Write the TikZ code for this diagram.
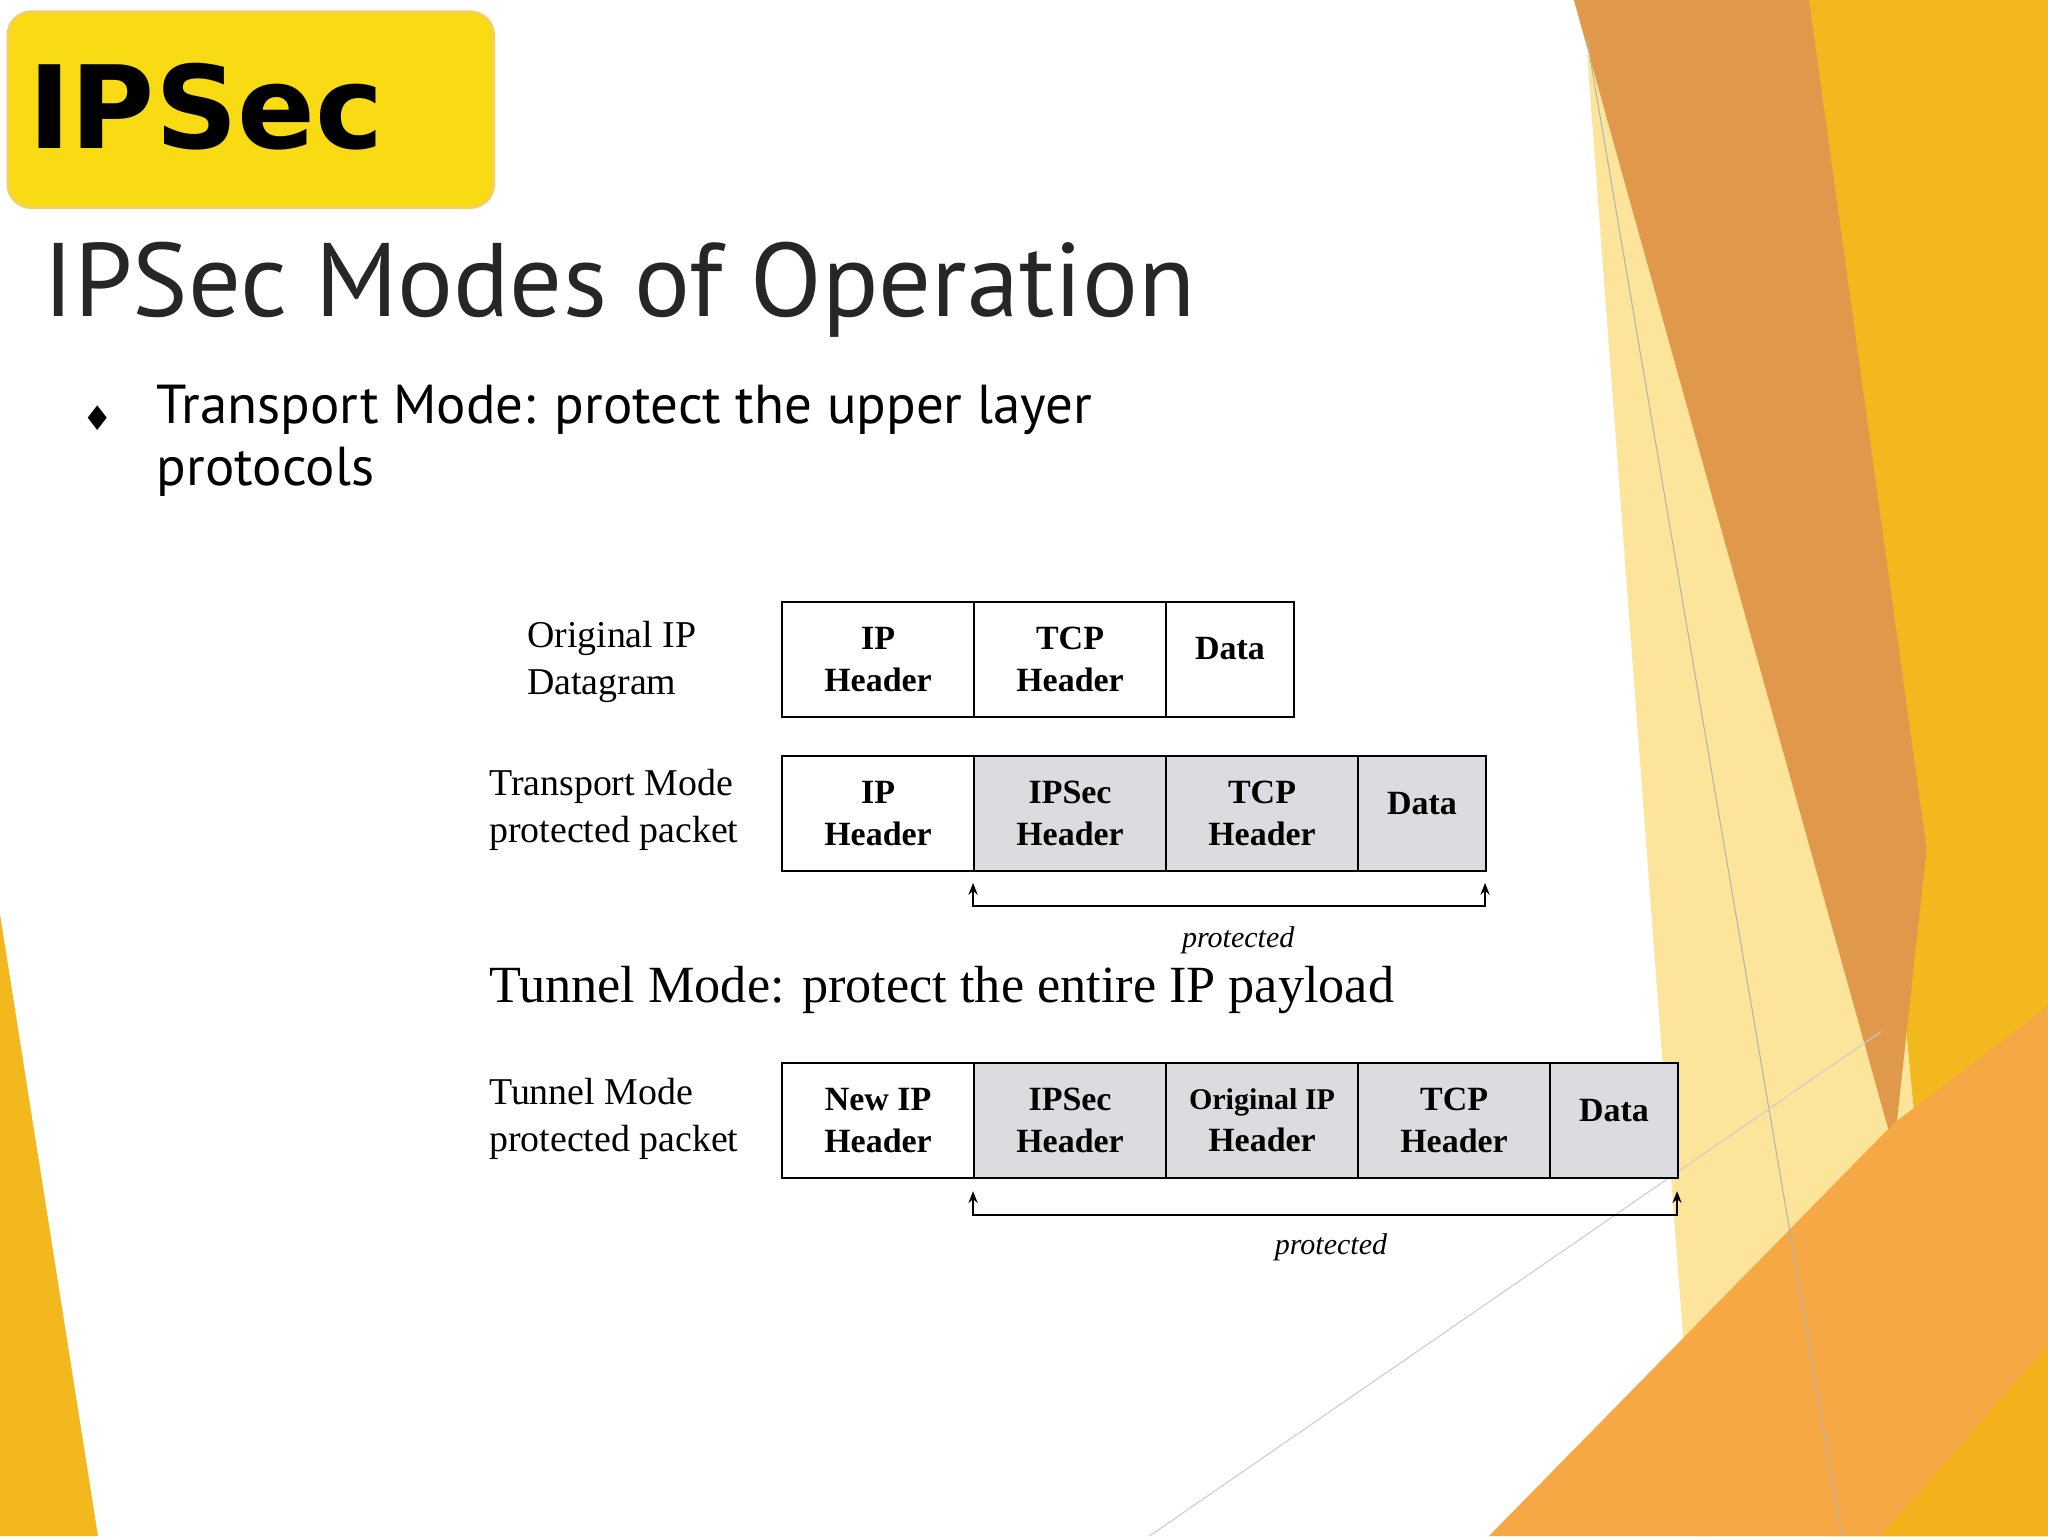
\documentclass[tikz,border=0pt]{standalone}
\usepackage{fontspec}
\setmainfont{Liberation Serif}
\newfontfamily\ptsans{PT Sans}
\newfontfamily\djb{DejaVu Sans}
\usetikzlibrary{arrows.meta}
\definecolor{gold}{HTML}{F2B81E}
\definecolor{orng}{HTML}{E0984A}
\definecolor{lorng}{HTML}{F6A845}
\definecolor{lyel}{HTML}{FCE59A}
\definecolor{boxgray}{HTML}{DCDBE0}
\tikzset{
 cell/.style={draw=black,line width=1.5pt,minimum height=88pt,anchor=north west,inner sep=0pt,align=center,font=\fontsize{26}{32}\selectfont\bfseries,text depth=0pt},
 lab/.style={anchor=west,align=left,font=\fontsize{29}{36}\selectfont},
 prot/.style={font=\fontsize{23}{28}\selectfont\itshape},
 brk/.style={line width=1.5pt,-{Stealth[length=9pt,width=7pt]}}
}
\begin{document}
\begin{tikzpicture}[x=1pt,y=-1pt]
\useasboundingbox (0,0) rectangle (1568,1176);
\fill[white] (0,0) rectangle (1568,1176);
% background
\fill[lyel] (1215,40) -- (1330,300) -- (1470,700) -- (1568,820) -- (1568,1176) -- (1300,1176) -- cycle;
\fill[gold] (1385,0) -- (1568,0) -- (1568,1176) -- (1400,1176) -- (1470,900) -- cycle;
\fill[orng] (1205,0) -- (1385,0) -- (1475,650) -- (1450,880) -- cycle;
\fill[lorng] (1140,1176) -- (1450,860) -- (1568,770) -- (1568,1176) -- cycle;
\fill[gold!90!orange] (1440,1176) -- (1568,1030) -- (1568,1176) -- cycle;
\fill[gold] (0,700) -- (75,1176) -- (0,1176) -- cycle;
\draw[gray!60,line width=0.8pt] (1215,30) -- (1410,1176);
\draw[gray!40,line width=0.8pt] (880,1176) -- (1440,790);
% title box
\node[draw=gold!70!white,line width=2pt,rounded corners=18pt,fill=yellow!60!gold,minimum width=372pt,minimum height=150pt,anchor=north west] (tb) at (5,8) {};
\node[anchor=west,font=\djb\bfseries\fontsize{88}{90}\selectfont] (ipsec) at (18,82) {IPSec};
\node[anchor=west,font=\ptsans\fontsize{80}{90}\selectfont,text=black!85] (title) at (30,222) {IPSec Modes of Operation};
\node[anchor=west,font=\djb\fontsize{26}{30}\selectfont] (bul) at (60,320) {♦};
\node[anchor=north west,align=left,font=\ptsans\fontsize{42}{47}\selectfont,inner sep=0pt] (bt) at (120,295) {Transport Mode: protect the upper layer\\protocols};
% row 1
\node[lab] (l1) at (400,507) {Original IP\\Datagram};
\node[cell,minimum width=147pt] (a1) at (598,460) {IP\\Header};
\node[cell,minimum width=147pt] (a2) at (745,460) {TCP\\Header};
\node[cell,minimum width=98pt,anchor=north west] (a3) at (892,460) {\raisebox{16pt}{Data}};
% row 2
\node[lab] (l2) at (371,620) {Transport Mode\\protected packet};
\node[cell,minimum width=147pt] (b1) at (598,578) {IP\\Header};
\node[cell,minimum width=147pt,fill=boxgray] (b2) at (745,578) {IPSec\\Header};
\node[cell,minimum width=147pt,fill=boxgray] (b3) at (892,578) {TCP\\Header};
\node[cell,minimum width=98pt,fill=boxgray] (b4) at (1039,578) {\raisebox{16pt}{Data}};
\coordinate (p1) at (745,694); \coordinate (p2) at (1137,694);
\draw[brk] (p1) -- (p2) -- ++(0,-18);
\draw[brk] (p2) -- (p1) -- ++(0,-18);
\node[prot] (pl1) at (948,720) {protected};
\node[anchor=west,font=\fontsize{40}{44}\selectfont] (tm) at (371,758) {Tunnel Mode: protect the entire IP payload};
% row 3
\node[lab] (l3) at (371,857) {Tunnel Mode\\protected packet};
\node[cell,minimum width=147pt] (c1) at (598,813) {New IP\\Header};
\node[cell,minimum width=147pt,fill=boxgray] (c2) at (745,813) {IPSec\\Header};
\node[cell,minimum width=147pt,fill=boxgray] (c3) at (892,813) {{\fontsize{23}{32}\selectfont Original IP}\\Header};
\node[cell,minimum width=147pt,fill=boxgray] (c4) at (1039,813) {TCP\\Header};
\node[cell,minimum width=98pt,fill=boxgray] (c5) at (1186,813) {\raisebox{16pt}{Data}};
\coordinate (q1) at (745,930); \coordinate (q2) at (1284,930);
\draw[brk] (q1) -- (q2) -- ++(0,-18);
\draw[brk] (q2) -- (q1) -- ++(0,-18);
\node[prot] (pl2) at (1019,955) {protected};
\end{tikzpicture}
\end{document}
